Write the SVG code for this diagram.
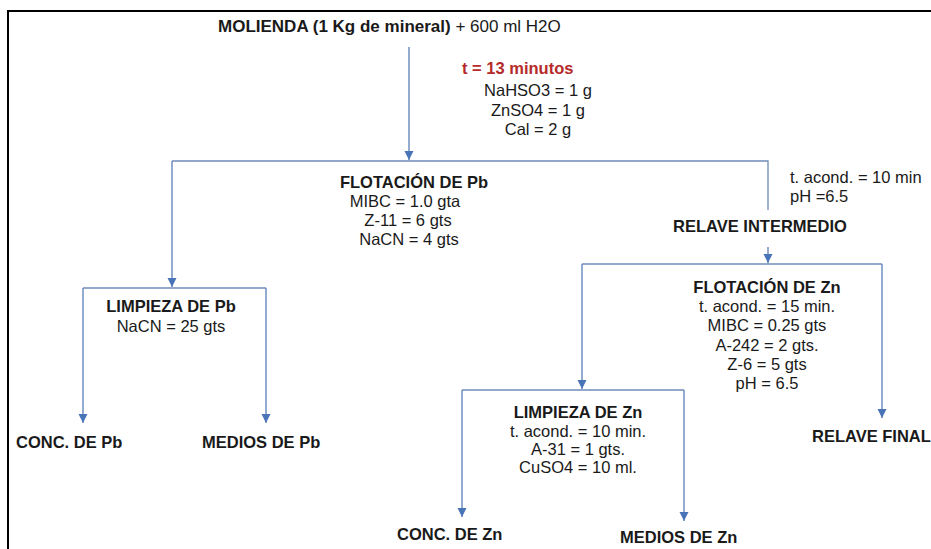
<svg xmlns="http://www.w3.org/2000/svg" width="931" height="549" viewBox="0 0 931 549">
<defs>
<marker id="ah" markerWidth="10" markerHeight="10" refX="9" refY="5" orient="auto" markerUnits="userSpaceOnUse">
<path d="M0,0.5 L9,5 L0,9.5 Z" fill="#4A74B8"/>
</marker>
</defs>
<style>
text{font-family:"Liberation Sans",Arial,sans-serif;font-size:16.5px;fill:#1a1a1a}
.b{font-weight:bold}
.c{text-anchor:middle}
.r{fill:#B52A2A;font-weight:bold}
.ln{stroke:#6F8BB8;stroke-width:1.3;fill:none}
.ar{stroke:#5A7EB8;stroke-width:1.3;fill:none;marker-end:url(#ah)}
</style>
<rect x="8" y="11" width="940" height="560" fill="none" stroke="#000" stroke-width="2"/>
<g id="connectors">
<path class="ar" d="M409,47 V160"/>
<path class="ln" d="M172,161 H768 V210"/>
<path class="ar" d="M172,161 V287"/>
<path class="ar" d="M768,247 V263"/>
<path class="ln" d="M582,264 H882"/>
<path class="ar" d="M582,264 V389"/>
<path class="ar" d="M882,264 V418"/>
<path class="ln" d="M83,288 H266"/>
<path class="ar" d="M83,288 V423"/>
<path class="ar" d="M266,288 V423"/>
<path class="ln" d="M462,390 H684"/>
<path class="ar" d="M462,390 V517"/>
<path class="ar" d="M684,390 V521"/>
</g>
<g id="molienda">
<text x="218" y="32" style="font-size:17px"><tspan class="b">MOLIENDA (1 Kg de mineral)</tspan> + 600 ml H2O</text>
</g>
<g id="reactivos">
<text x="462" y="74" class="r">t = 13 minutos</text>
<text x="538" y="96" class="c">NaHSO3 = 1 g</text>
<text x="538" y="116" class="c">ZnSO4 = 1 g</text>
<text x="538" y="135" class="c">Cal = 2 g</text>
</g>
<g id="flotacion-pb">
<text x="414" y="188" class="b c">FLOTACIÓN DE Pb</text>
<text x="405" y="207" class="c">MIBC = 1.0 gta</text>
<text x="408" y="226" class="c">Z-11 = 6 gts</text>
<text x="409" y="245" class="c">NaCN = 4 gts</text>
</g>
<g id="acond">
<text x="790" y="183">t. acond. = 10 min</text>
<text x="790" y="202">pH =6.5</text>
</g>
<g id="relave-intermedio">
<text x="760" y="232" class="b c">RELAVE INTERMEDIO</text>
</g>
<g id="limpieza-pb">
<text x="171" y="312" class="b c">LIMPIEZA DE Pb</text>
<text x="171" y="332" class="c">NaCN = 25 gts</text>
</g>
<g id="flotacion-zn">
<text x="767" y="293" class="b c">FLOTACIÓN DE Zn</text>
<text x="767" y="312" class="c">t. acond. = 15 min.</text>
<text x="767" y="331" class="c">MIBC = 0.25 gts</text>
<text x="767" y="351" class="c">A-242 = 2 gts.</text>
<text x="767" y="370" class="c">Z-6 = 5 gts</text>
<text x="767" y="389" class="c">pH = 6.5</text>
</g>
<g id="limpieza-zn">
<text x="578" y="418" class="b c">LIMPIEZA DE Zn</text>
<text x="578" y="437" class="c">t. acond. = 10 min.</text>
<text x="578" y="455" class="c">A-31 = 1 gts.</text>
<text x="578" y="473" class="c">CuSO4 = 10 ml.</text>
</g>
<g id="conc-pb"><text x="16" y="448" class="b">CONC. DE Pb</text></g>
<g id="medios-pb"><text x="202" y="448" class="b">MEDIOS DE Pb</text></g>
<g id="conc-zn"><text x="397" y="540" class="b">CONC. DE Zn</text></g>
<g id="medios-zn"><text x="620" y="543" class="b">MEDIOS DE Zn</text></g>
<g id="relave-final"><text x="812" y="442" class="b">RELAVE FINAL</text></g>
</svg>
